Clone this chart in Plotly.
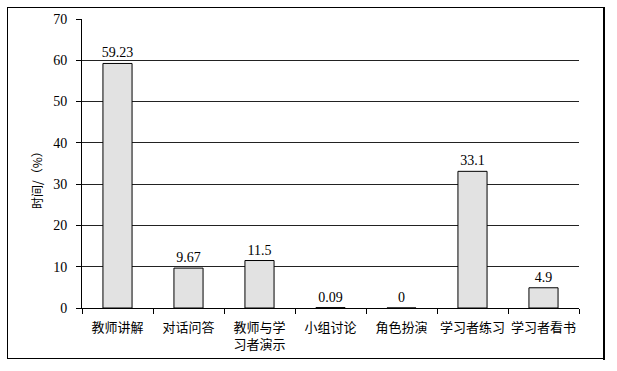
import plotly.graph_objects as go

categories = ["教师讲解", "对话问答", "教师与学<br>习者演示", "小组讨论", "角色扮演", "学习者练习", "学习者看书"]
values = [59.23, 9.67, 11.5, 0.09, 0, 33.1, 4.9]
value_labels = ["59.23", "9.67", "11.5", "0.09", "0", "33.1", "4.9"]
y_ticks = [0, 10, 20, 30, 40, 50, 60, 70]

W, H = 617, 371
L, R, T, B = 82, 579, 19, 308  # plot area pixel bounds

FONT = "Liberation Serif, Noto Sans CJK SC, serif"

fig = go.Figure()
fig.add_trace(go.Bar(
    x=categories, y=values,
    text=value_labels, textposition="outside", cliponaxis=False,
    constraintext="none",
    textfont=dict(family=FONT, size=14, color="black"),
    marker=dict(color="#e2e2e2", line=dict(color="black", width=1)),
    width=0.41,
))

def px_x(p):
    return (p - L) / (R - L)

def px_y(p):
    return (B - p) / (B - T)

def bar_shape(x0, y0, x1, y1):
    return dict(type="rect", xref="paper", yref="paper",
                x0=px_x(x0), x1=px_x(x1), y0=px_y(y1), y1=px_y(y0),
                fillcolor="black", line=dict(width=0), layer="above")

fig.update_layout(
    width=W, height=H,
    margin=dict(l=L, r=W - R, t=T, b=H - B, autoexpand=False),
    paper_bgcolor="white", plot_bgcolor="white",
    showlegend=False,
    font=dict(family=FONT, size=13, color="black"),
    xaxis=dict(
        type="category", showline=True, linecolor="black", linewidth=1,
        ticks="outside", tickson="boundaries", ticklen=5, tickcolor="black",
        tickangle=0, automargin=False, ticklabelstandoff=7,
        tickfont=dict(family="Noto Sans CJK SC", size=13, color="black"),
        showgrid=False,
    ),
    yaxis=dict(
        range=[0, 70], tickvals=y_ticks, showline=True, linecolor="black", linewidth=1,
        ticks="outside", ticklen=5, tickcolor="black", automargin=False,
        ticklabelstandoff=6,
        tickfont=dict(family="Liberation Serif", size=14, color="black"),
        showgrid=True, gridcolor="#222222", gridwidth=1, zeroline=False,
    ),
    annotations=[dict(
        text="时间/（%）", textangle=-90, xref="paper", yref="paper",
        x=px_x(37), y=px_y(177), xanchor="center", yanchor="middle", showarrow=False,
        font=dict(family="Noto Sans CJK SC", size=12, color="black"),
    )],
    shapes=[
        bar_shape(7, 7, 605, 8),      # top
        bar_shape(7, 7, 8, 359),      # left
        bar_shape(7, 358, 605, 359),  # bottom
        bar_shape(603, 7, 605, 360),  # right (shadowed)
    ],
)

post = (
    "document.body.style.margin='0';"
    "document.body.style.overflow='hidden';"
    "var f=document.createElement('div');"
    "f.style.cssText='position:absolute;left:7px;top:7px;width:596px;height:351px;"
    "border-top:1px solid #000;pointer-events:none;';"
    "document.body.appendChild(f);"
)

fig.write_html("out.html", config={"displayModeBar": False}, post_script=post)
